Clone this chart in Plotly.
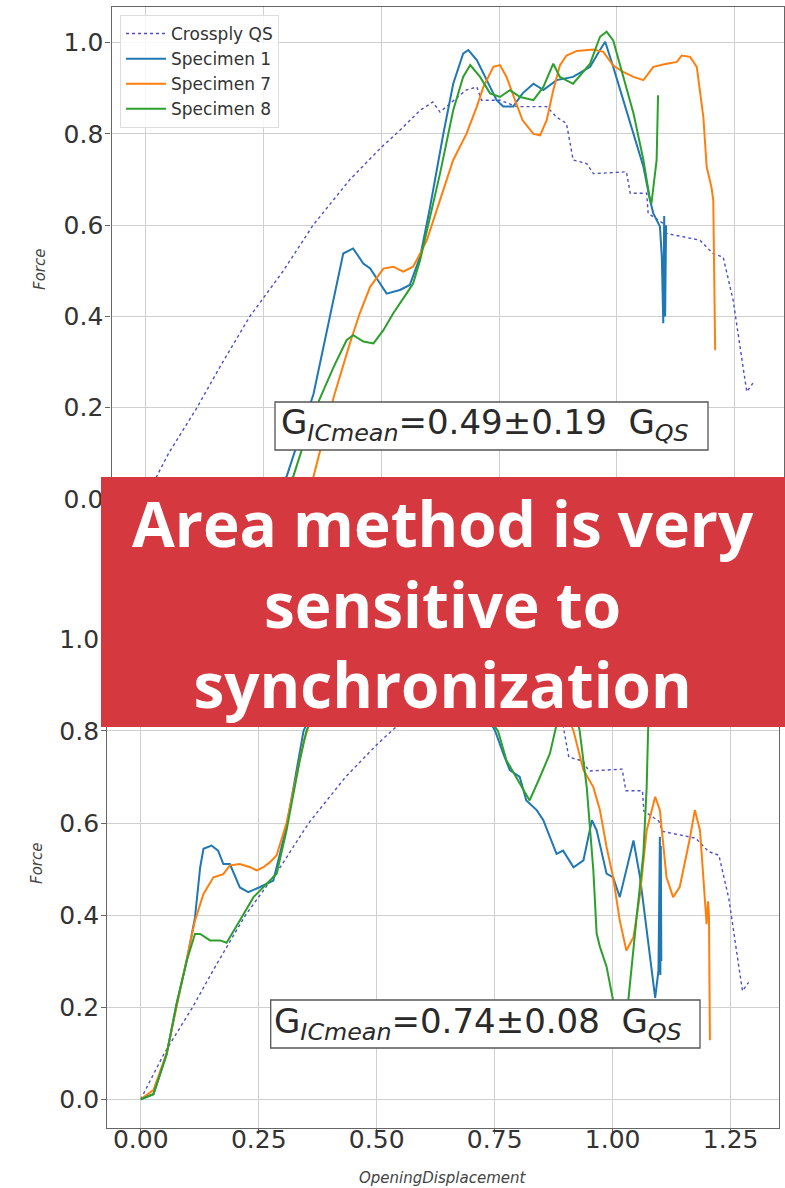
import plotly.graph_objects as go

W, H = 785, 1188

# ---------------- data ----------------
# Quasi-static crossply reference curve (shared by both panels)
qs_x = [0.0, 0.025, 0.05, 0.11, 0.159, 0.222, 0.293, 0.356, 0.434, 0.50, 0.54, 0.583, 0.61, 0.625,
        0.65, 0.68, 0.703, 0.713, 0.752, 0.787, 0.851, 0.865, 0.872, 0.893, 0.907, 0.936, 0.95, 1.02,
        1.028, 1.063, 1.066, 1.098, 1.105, 1.176, 1.203, 1.225, 1.246, 1.267, 1.275, 1.288]
qs_y = [0.0, 0.049, 0.10, 0.20, 0.29, 0.40, 0.50, 0.60, 0.70, 0.77, 0.808, 0.852, 0.87, 0.848,
        0.87, 0.896, 0.903, 0.874, 0.874, 0.86, 0.86, 0.845, 0.837, 0.823, 0.743, 0.735, 0.713, 0.717,
        0.67, 0.67, 0.626, 0.604, 0.582, 0.567, 0.538, 0.53, 0.436, 0.29, 0.235, 0.254]

# Upper panel: specimens as recorded
s1_top_x = [0.0, 0.20, 0.26, 0.30, 0.357, 0.40, 0.42, 0.441, 0.4625, 0.477, 0.498, 0.512, 0.54, 0.561,
            0.583, 0.604, 0.632, 0.653, 0.674, 0.685, 0.703, 0.724, 0.745, 0.759, 0.78, 0.80, 0.823,
            0.844, 0.872, 0.907, 0.943, 0.964, 0.975, 0.992, 1.013, 1.035, 1.056, 1.07, 1.077, 1.091,
            1.095, 1.098, 1.10, 1.102, 1.104]
s1_top_y = [0.0, 0.0, 0.01, 0.049, 0.23, 0.443, 0.538, 0.549, 0.516, 0.505, 0.472, 0.45, 0.458, 0.469,
            0.531, 0.64, 0.80, 0.91, 0.976, 0.984, 0.962, 0.918, 0.874, 0.86, 0.86, 0.889, 0.91,
            0.896, 0.918, 0.925, 0.947, 0.984, 1.002, 0.947, 0.874, 0.80, 0.728, 0.655, 0.626, 0.597,
            0.53, 0.385, 0.62, 0.40, 0.60]

s7_top_x = [0.0, 0.25, 0.32, 0.357, 0.40, 0.434, 0.455, 0.477, 0.505, 0.526, 0.547, 0.568, 0.583, 0.597,
            0.625, 0.653, 0.681, 0.703, 0.717, 0.738, 0.752, 0.766, 0.784, 0.80, 0.823, 0.837, 0.851,
            0.865, 0.879, 0.893, 0.915, 0.95, 0.971, 0.992, 1.013, 1.035, 1.056, 1.077, 1.105, 1.127,
            1.137, 1.155, 1.169, 1.183, 1.19, 1.20, 1.204, 1.208]
s7_top_y = [0.0, 0.0, 0.01, 0.049, 0.224, 0.341, 0.407, 0.465, 0.505, 0.509, 0.498, 0.509, 0.538, 0.567,
            0.655, 0.743, 0.80, 0.86, 0.903, 0.947, 0.951, 0.925, 0.874, 0.83, 0.80, 0.797, 0.83,
            0.896, 0.95, 0.972, 0.982, 0.985, 0.98, 0.95, 0.936, 0.925, 0.918, 0.947, 0.954, 0.958,
            0.972, 0.969, 0.947, 0.837, 0.728, 0.684, 0.655, 0.326]

s8_top_x = [0.0, 0.22, 0.28, 0.314, 0.357, 0.40, 0.427, 0.441, 0.4625, 0.484, 0.505, 0.526, 0.554, 0.568,
            0.583, 0.597, 0.625, 0.653, 0.674, 0.689, 0.71, 0.731, 0.752, 0.773, 0.795, 0.823, 0.844,
            0.865, 0.879, 0.907, 0.943, 0.964, 0.978, 0.992, 1.013, 1.035, 1.056, 1.07, 1.073, 1.084, 1.087]
s8_top_y = [0.0, 0.0, 0.01, 0.049, 0.188, 0.29, 0.348, 0.359, 0.345, 0.341, 0.37, 0.407, 0.45, 0.472,
            0.524, 0.589, 0.713, 0.852, 0.925, 0.951, 0.925, 0.889, 0.881, 0.896, 0.881, 0.874, 0.903,
            0.954, 0.925, 0.91, 0.954, 1.013, 1.024, 1.005, 0.925, 0.845, 0.743, 0.655, 0.648, 0.743, 0.885]

# Lower panel: specimens after synchronization
s1_bot_x = [0.0, 0.027, 0.055, 0.076, 0.0975, 0.115, 0.126, 0.133, 0.15, 0.164, 0.175, 0.189, 0.21, 0.228,
            0.253, 0.281, 0.288, 0.309, 0.345, 0.40, 0.50, 0.60, 0.70, 0.751, 0.768, 0.782, 0.803, 0.817,
            0.839, 0.853, 0.881, 0.895, 0.917, 0.938, 0.956, 0.966, 0.987, 1.001, 1.015, 1.044, 1.058,
            1.079, 1.09, 1.097, 1.10, 1.101, 1.102, 1.103]
s1_bot_y = [0.0, 0.011, 0.098, 0.207, 0.301, 0.395, 0.504, 0.544, 0.551, 0.54, 0.511, 0.511, 0.46, 0.45,
            0.461, 0.475, 0.504, 0.592, 0.80, 0.93, 1.0, 0.97, 0.9, 0.80, 0.751, 0.715, 0.70, 0.649,
            0.628, 0.606, 0.533, 0.54, 0.504, 0.519, 0.606, 0.584, 0.49, 0.482, 0.439, 0.562, 0.482,
            0.301, 0.22, 0.28, 0.57, 0.27, 0.55, 0.30]

s7_bot_x = [0.0, 0.027, 0.055, 0.076, 0.0975, 0.115, 0.133, 0.154, 0.175, 0.189, 0.21, 0.232, 0.246, 0.26,
            0.274, 0.288, 0.309, 0.345, 0.359, 0.45, 0.60, 0.80, 0.88, 0.906, 0.917, 0.938, 0.959, 0.973,
            0.987, 1.001, 1.015, 1.029, 1.044, 1.058, 1.072, 1.09, 1.10, 1.114, 1.128, 1.142, 1.164,
            1.174, 1.185, 1.195, 1.199, 1.202, 1.204, 1.206]
s7_bot_y = [0.0, 0.02, 0.10, 0.20, 0.30, 0.388, 0.446, 0.482, 0.489, 0.508, 0.511, 0.504, 0.497, 0.504,
            0.515, 0.53, 0.60, 0.776, 0.821, 0.95, 1.0, 0.98, 0.88, 0.83, 0.80, 0.715, 0.678, 0.628,
            0.548, 0.482, 0.388, 0.323, 0.352, 0.446, 0.584, 0.657, 0.628, 0.482, 0.439, 0.461, 0.569,
            0.628, 0.584, 0.424, 0.38, 0.43, 0.40, 0.128]

s8_bot_x = [0.0, 0.027, 0.055, 0.076, 0.0975, 0.115, 0.126, 0.147, 0.168, 0.182, 0.21, 0.239, 0.267, 0.288,
            0.309, 0.337, 0.351, 0.40, 0.50, 0.60, 0.70, 0.757, 0.775, 0.796, 0.824, 0.846, 0.867, 0.878,
            0.895, 0.912, 0.93, 0.945, 0.959, 0.966, 0.973, 0.987, 1.001, 1.017, 1.033, 1.05, 1.065,
            1.072, 1.075, 1.08, 1.085]
s8_bot_y = [0.0, 0.011, 0.098, 0.207, 0.301, 0.359, 0.359, 0.345, 0.345, 0.34, 0.388, 0.439, 0.468, 0.49,
            0.584, 0.736, 0.80, 0.92, 0.99, 0.97, 0.88, 0.80, 0.736, 0.70, 0.649, 0.70, 0.751, 0.80,
            0.88, 0.90, 0.80, 0.678, 0.497, 0.36, 0.331, 0.288, 0.214, 0.15, 0.214, 0.388, 0.533,
            0.678, 0.80, 0.92, 1.0]

x_ticks = [0.0, 0.25, 0.5, 0.75, 1.0, 1.25]
x_tick_text = ["0.00", "0.25", "0.50", "0.75", "1.00", "1.25"]
y_ticks = [0.0, 0.2, 0.4, 0.6, 0.8, 1.0]
y_tick_text = ["0.0", "0.2", "0.4", "0.6", "0.8", "1.0"]

g_top_text = "G<sub><i>ICmean</i></sub>=0.49±0.19\u00a0\u00a0G<sub><i>QS</i></sub>"
g_bot_text = "G<sub><i>ICmean</i></sub>=0.74±0.08\u00a0\u00a0G<sub><i>QS</i></sub>"
banner_text = "Area method is very<br>sensitive to<br>synchronization"

# ---------------- styling ----------------
QS_COLOR = "#4f4fc4"
C1, C7, C8 = "#1f77b4", "#ff7f0e", "#2ca02c"
FONT = "DejaVu Sans"


def px_x(p):
    return p / W


def px_y(p):
    return 1 - p / H


fig = go.Figure()

panels = [
    ("x", "y", s1_top_x, s1_top_y, s7_top_x, s7_top_y, s8_top_x, s8_top_y, True),
    ("x2", "y2", s1_bot_x, s1_bot_y, s7_bot_x, s7_bot_y, s8_bot_x, s8_bot_y, False),
]
for xa, ya, ax1, ay1, ax7, ay7, ax8, ay8, show in panels:
    fig.add_trace(go.Scatter(x=qs_x, y=qs_y, mode="lines", name="Crossply QS", xaxis=xa, yaxis=ya,
                             line=dict(color=QS_COLOR, width=1.4, dash="dot"), showlegend=show))
    fig.add_trace(go.Scatter(x=ax1, y=ay1, mode="lines", name="Specimen 1", xaxis=xa, yaxis=ya,
                             line=dict(color=C1, width=2), showlegend=show))
    fig.add_trace(go.Scatter(x=ax7, y=ay7, mode="lines", name="Specimen 7", xaxis=xa, yaxis=ya,
                             line=dict(color=C7, width=2), showlegend=show))
    fig.add_trace(go.Scatter(x=ax8, y=ay8, mode="lines", name="Specimen 8", xaxis=xa, yaxis=ya,
                             line=dict(color=C8, width=2), showlegend=show))

axis_common = dict(
    showgrid=True, gridcolor="#cfcfcf", gridwidth=1.2,
    showline=True, linecolor="#666666", linewidth=1.3, mirror=True,
    ticks="outside", ticklen=5, tickcolor="#666666",
    zeroline=False,
    tickfont=dict(family=FONT, size=25, color="#333333"),
)
x_range = [-0.071, 1.353]

fig.update_layout(
    width=W, height=H,
    margin=dict(l=0, r=0, t=0, b=0),
    paper_bgcolor="white", plot_bgcolor="white",
    showlegend=True,
    xaxis=dict(domain=[px_x(111.5), px_x(783.6)], range=x_range, anchor="y",
               tickvals=x_ticks, ticktext=x_tick_text, showticklabels=False, **axis_common),
    yaxis=dict(domain=[px_y(528), px_y(6.7)], range=[-0.0636, 1.0789], anchor="x",
               tickvals=y_ticks, ticktext=y_tick_text, ticklabelstandoff=-3, **axis_common),
    xaxis2=dict(domain=[px_x(107.2), px_x(779.3)], range=x_range, anchor="y2",
                tickvals=x_ticks, ticktext=x_tick_text, ticklabelstandoff=-16, **axis_common),
    yaxis2=dict(domain=[px_y(1127.5), px_y(602.5)], range=[-0.0614, 1.079], anchor="x2",
                tickvals=y_ticks, ticktext=y_tick_text, ticklabelstandoff=-3, **axis_common),
    legend=dict(x=px_x(120), y=px_y(15), xanchor="left", yanchor="top",
                bgcolor="rgba(255,255,255,0.85)", bordercolor="#dddddd", borderwidth=1,
                font=dict(family=FONT, size=17, color="#333333"), itemwidth=40),
)

# Axis titles
label_font = dict(family=FONT, size=15, color="#444444", style="italic")
fig.add_annotation(text="Force", xref="paper", yref="paper", x=px_x(40), y=px_y(270),
                   textangle=-90, showarrow=False, font=label_font,
                   xanchor="center", yanchor="middle")
fig.add_annotation(text="Force", xref="paper", yref="paper", x=px_x(37), y=px_y(864),
                   textangle=-90, showarrow=False, font=label_font,
                   xanchor="center", yanchor="middle")
fig.add_annotation(text="OpeningDisplacement", xref="paper", yref="paper", x=px_x(442), y=px_y(1178),
                   showarrow=False, font=label_font, xanchor="center", yanchor="middle")

# Result boxes
g_font = dict(family=FONT, size=34, color="#2a2a2a")
for (x0, x1, y0, y1, txt) in [(275, 708, 402, 450, g_top_text), (270.7, 700, 1000, 1048, g_bot_text)]:
    fig.add_shape(type="rect", xref="paper", yref="paper",
                  x0=px_x(x0), x1=px_x(x1), y0=px_y(y1), y1=px_y(y0),
                  fillcolor="white", line=dict(color="#555555", width=1.3), layer="above")
    fig.add_annotation(text=txt, xref="paper", yref="paper", x=px_x((x0 + x1) / 2 - 7),
                       y=px_y((y0 + y1) / 2 - 1), showarrow=False, font=g_font,
                       xanchor="center", yanchor="middle")

# Red banner with the message
fig.add_shape(type="rect", xref="paper", yref="paper",
              x0=px_x(101), x1=1.0, y0=px_y(727), y1=px_y(477),
              fillcolor="#d6383f", line=dict(width=0), layer="above")
fig.add_annotation(text=banner_text, xref="paper", yref="paper", x=px_x(443), y=px_y(603),
                   showarrow=False, align="center", xanchor="center", yanchor="middle",
                   font=dict(family="Open Sans", size=62, color="white", weight=700))

fig.write_html("out.html")
